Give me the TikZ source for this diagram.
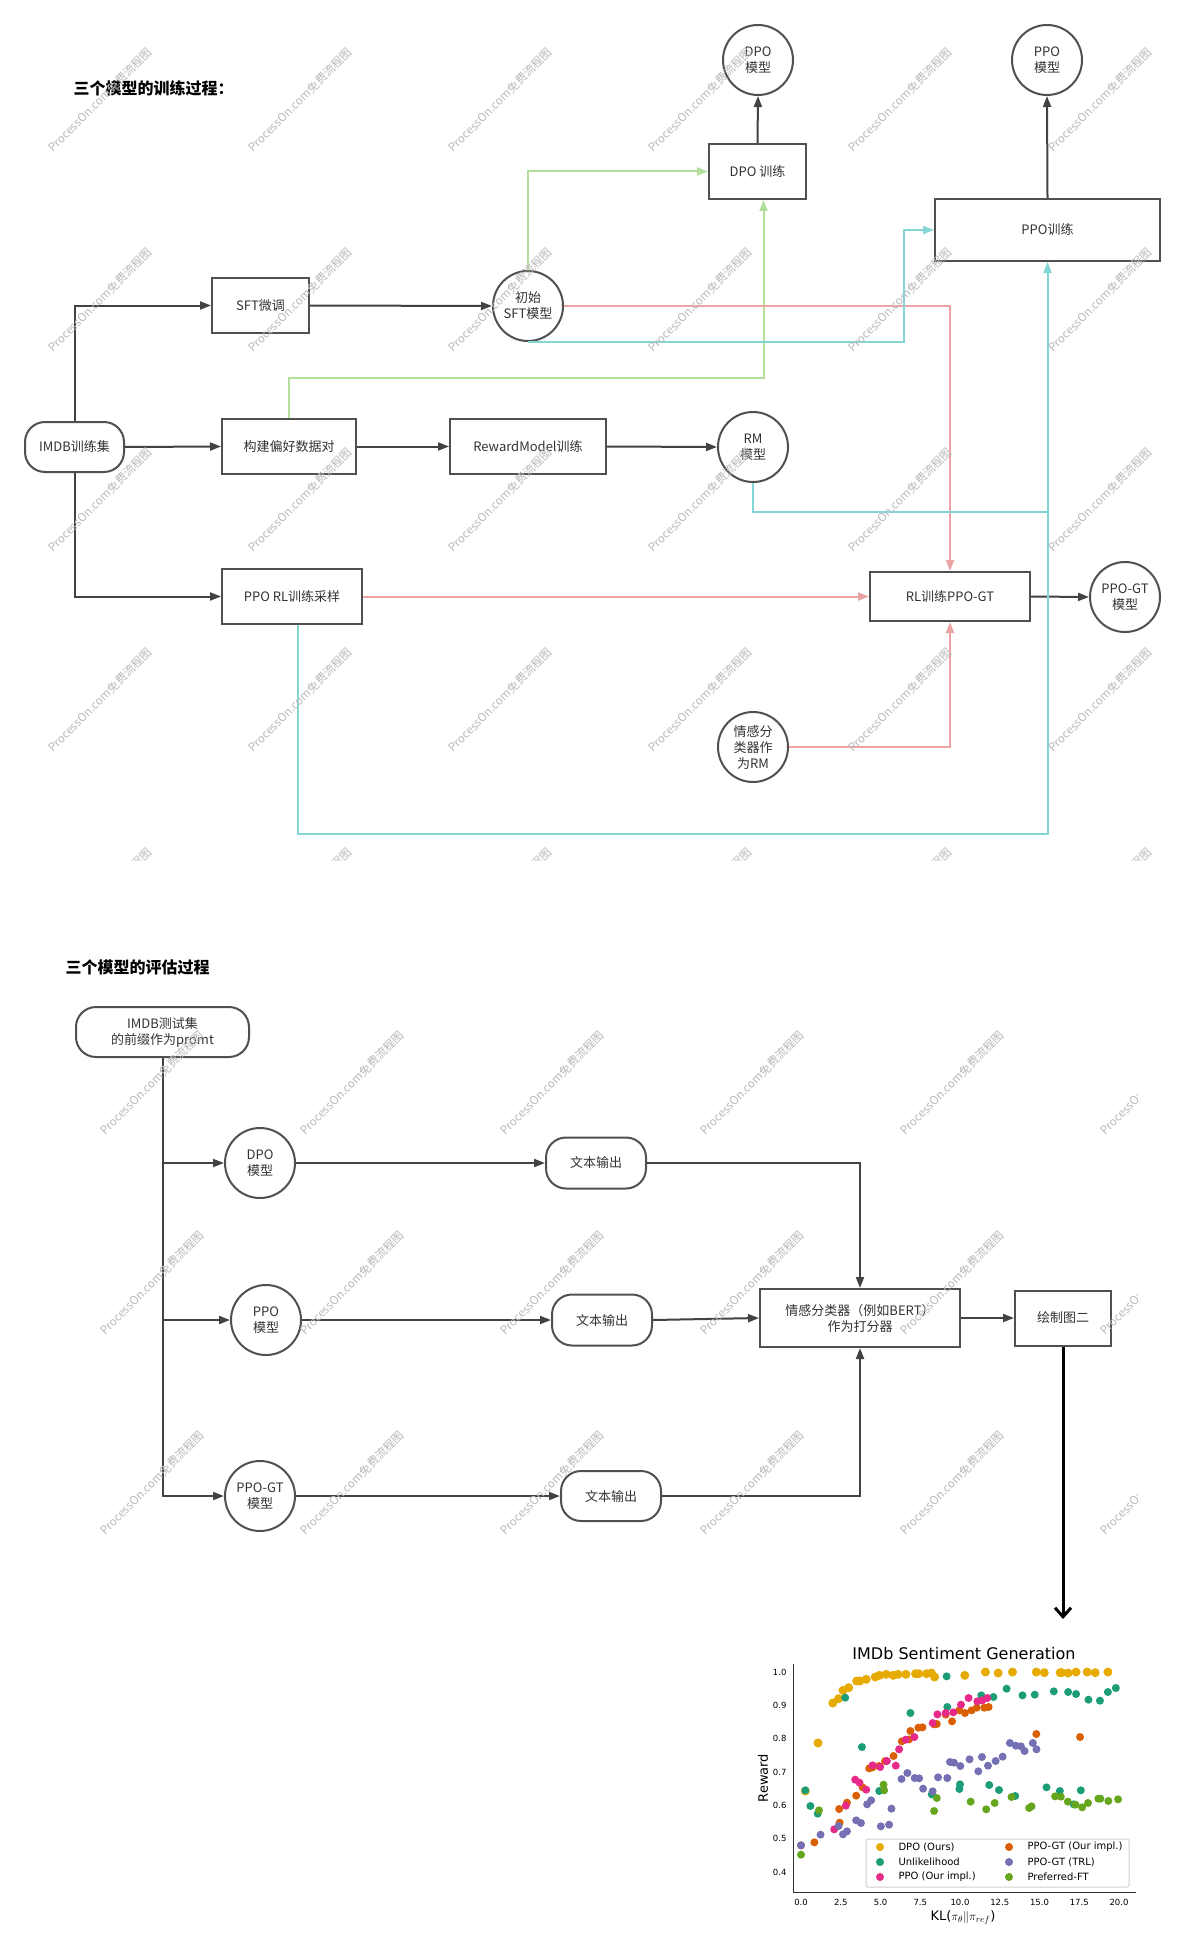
\documentclass[tikz,border=0pt]{standalone}
\usepackage{fontspec}
\setmainfont{Noto Sans CJK SC}
\newfontfamily\plotfont{DejaVu Sans}
\usetikzlibrary{arrows.meta}
\definecolor{boxc}{HTML}{505050}
\definecolor{linec}{HTML}{424242}
\definecolor{txt}{HTML}{333333}
\definecolor{greenl}{HTML}{B2E09C}
\definecolor{redl}{HTML}{EBA3A3}
\definecolor{cyanl}{HTML}{84D5D5}
\definecolor{dpoc}{HTML}{E6AB02}
\definecolor{unlc}{HTML}{1B9E77}
\definecolor{ppoc}{HTML}{E7298A}
\definecolor{pgtc}{HTML}{D95F02}
\definecolor{trlc}{HTML}{7570B3}
\definecolor{pftc}{HTML}{66A61E}
\tikzset{
  box/.style={draw=boxc, line width=2pt, text=txt, align=center, inner sep=0pt,
    font=\fontsize{13}{16}\selectfont},
  pill/.style={box, rounded corners=20pt},
  model/.style={box, circle, minimum size=70pt},
  flow/.style={draw=linec, line width=2pt, -{Triangle[length=11pt,width=8pt]}},
  gflow/.style={draw=greenl, line width=2pt, -{Triangle[length=11pt,width=8pt]}},
  rflow/.style={draw=redl, line width=2pt, -{Triangle[length=11pt,width=8pt]}},
  cflow/.style={draw=cyanl, line width=2pt, -{Triangle[length=11pt,width=8pt]}},
  wmark/.style={rotate=45, text=black!27, font=\fontsize{11.5}{12}\selectfont},
  dot/.style={radius=4pt},
}
\begin{document}
\begin{tikzpicture}[x=1pt, y=-1pt]
\useasboundingbox[fill=white] (0,0) rectangle (1185,1953);

% training
\node[anchor=west, font=\fontsize{16}{18}\selectfont\bfseries] (title1) at (70,88) {三个模型的训练过程：};
\node[pill, minimum width=99pt, minimum height=50pt] (imdb) at (74.5,447) {IMDB训练集};
\node[box, minimum width=97pt, minimum height=55pt] (sft) at (260.5,305.5) {SFT微调};
\node[model] (sftm) at (528,306) {初始\\SFT模型};
\node[box, minimum width=134pt, minimum height=55pt] (pref) at (289,446.5) {构建偏好数据对};
\node[box, minimum width=156pt, minimum height=55pt] (rmtrain) at (528,446.5) {RewardModel训练};
\node[model] (rm) at (753,447) {RM\\模型};
\node[box, minimum width=140pt, minimum height=55pt] (pporl) at (292,596.5) {PPO RL训练采样};
\node[box, minimum width=160pt, minimum height=49pt] (rlgt) at (950,596.5) {RL训练PPO-GT};
\node[model] (ppogt) at (1125,597) {PPO-GT\\模型};
\node[model] (senti) at (753,747) {情感分\\类器作\\为RM};
\node[box, minimum width=97pt, minimum height=55pt] (dpotrain) at (757.5,171.5) {DPO 训练};
\node[model] (dpom) at (758,60) {DPO\\模型};
\node[box, minimum width=225pt, minimum height=62pt] (ppotrain) at (1047.5,230) {PPO训练};
\node[model] (ppom) at (1047,60) {PPO\\模型};
\coordinate (rmturn) at (1047.5,512);
\coordinate (botturn) at (1047.5,834);

\draw[flow] (imdb.north) |- (sft.west);
\draw[flow] (imdb.south) |- (pporl.west);
\draw[flow] (imdb.east) -- (pref.west);
\draw[flow] (pref.east) -- (rmtrain.west);
\draw[flow] (rmtrain.east) -- (rm.west);
\draw[flow] (sft.east) -- (sftm.west);
\draw[flow] (rlgt.east) -- (ppogt.west);
\draw[flow] (dpotrain.north) -- (dpom.south);
\draw[flow] (ppotrain.north) -- (ppom.south);
\draw[gflow] (sftm.north) |- (dpotrain.west);
\draw[gflow] (pref.north) |- ([xshift=6pt]dpotrain.south |- 0,378) -- ([xshift=6pt]dpotrain.south);
\draw[rflow] (sftm.east) -| (rlgt.north);
\draw[rflow] (pporl.east) -- (rlgt.west);
\draw[rflow] (senti.east) -| (rlgt.south);
\draw[cflow] (sftm.south) -| ([xshift=-30pt]ppotrain.west) -- (ppotrain.west);
\draw[cyanl, line width=2pt] (rm.south) |- (rmturn);
\draw[cflow] ([xshift=6pt]pporl.south) |- (botturn) -- (ppotrain.south);

% evaluation
\node[anchor=west, font=\fontsize{16}{18}\selectfont\bfseries] (title2) at (62,967) {三个模型的评估过程};
\node[pill, minimum width=173pt, minimum height=50pt] (imdbtest) at (162.5,1032) {IMDB测试集\\的前缀作为promt};
\node[model] (dpo2) at (260,1163) {DPO\\模型};
\node[model] (ppo2) at (266,1320) {PPO\\模型};
\node[model] (ppogt2) at (260,1496) {PPO-GT\\模型};
\node[pill, minimum width=100pt, minimum height=51pt] (out1) at (596,1163) {文本输出};
\node[pill, minimum width=100pt, minimum height=51pt] (out2) at (602,1320) {文本输出};
\node[pill, minimum width=100pt, minimum height=50pt] (out3) at (611,1496) {文本输出};
\node[box, minimum width=200pt, minimum height=58pt] (judge) at (860,1318) {情感分类器（例如BERT）\\作为打分器};
\node[box, minimum width=96pt, minimum height=55pt] (fig2) at (1063,1318) {绘制图二};
\coordinate (figarrow) at (1063,1619);

\draw[flow] (imdbtest.south) |- (dpo2.west);
\draw[flow] (imdbtest.south) |- (ppo2.west);
\draw[flow] (imdbtest.south) |- (ppogt2.west);
\draw[flow] (dpo2.east) -- (out1.west);
\draw[flow] (ppo2.east) -- (out2.west);
\draw[flow] (ppogt2.east) -- (out3.west);
\draw[flow] (out1.east) -| (judge.north);
\draw[flow] (out2.east) -- (judge.west);
\draw[flow] (out3.east) -| (judge.south);
\draw[flow] (judge.east) -- (fig2.west);
\draw[black, line width=3pt, -{Straight Barb[length=9pt,width=16pt]}] (fig2.south) -- (figarrow);

% plot
\node[font=\plotfont\fontsize{16}{18}\selectfont] (ptitle) at (964,1654) {IMDb Sentiment Generation};
\node[rotate=90, font=\plotfont\fontsize{13}{15}\selectfont] (ylab) at (763,1778) {Reward};
\node[font=\plotfont\fontsize{13}{15}\selectfont] (xlab) at (963,1917) {KL($\pi_\theta\|\pi_{ref}$)};
\draw[black!80, line width=1pt] (793,1664) -- (793,1892) -- (1136,1892);
\foreach \t [count=\i from 0] in {0.4,0.5,0.6,0.7,0.8,0.9,1.0}
  \node[anchor=east, font=\plotfont\fontsize{8.5}{9}\selectfont] at (790,1872-33.33*\i) {\t};
\foreach \t [count=\i from 0] in {0.0,2.5,5.0,7.5,10.0,12.5,15.0,17.5,20.0}
  \node[font=\plotfont\fontsize{8.5}{9}\selectfont] at (801+39.75*\i,1902) {\t};
\begin{scope}[shift={(801pt,-2005.3pt)}, x=15.9pt, y=333.3pt]
\foreach \a/\b in {0.27/0.643,1.07/0.787,2.0/0.907,2.36/0.92,2.64/0.945,3.0/0.953,3.5/0.973,3.7/0.973,4.1/0.978,4.67/0.985,4.94/0.99,5.36/0.993,5.8/0.99,6.1/0.993,6.6/0.993,7.2/0.995,7.4/0.995,7.9/0.995,8.2/0.997,8.4/0.985,10.3/0.99,11.6/1.0,12.4/0.997,13.3/1.0,14.8/1.0,15.3/0.998,16.3/0.998,16.4/0.998,16.8/0.997,17.3/1.0,18.0/1.0,18.5/0.998,19.3/1.0}
  \fill[dpoc] (\a,\b) circle[radius=4.5pt];
\foreach \a/\b in {0.27/0.645,0.59/0.598,1.05/0.575,2.78/0.923,3.83/0.775,4.92/0.643,6.88/0.877,8.22/0.633,9.16/0.987,9.2/0.895,9.96/0.649,10.0/0.663,11.34/0.93,11.84/0.661,12.1/0.925,12.45/0.646,12.93/0.95,13.47/0.628,13.93/0.93,14.7/0.932,15.44/0.654,15.9/0.942,16.28/0.643,16.8/0.94,17.15/0.603,17.3/0.934,17.6/0.645,18.08/0.917,18.8/0.914,19.3/0.94,19.8/0.952}
  \fill[unlc] (\a,\b) circle[dot];
\foreach \a/\b in {0.0/0.48,0.84/0.489,2.43/0.548,2.4/0.589,2.89/0.608,3.47/0.629,3.87/0.654,4.29/0.711,4.5/0.714,4.92/0.718,5.29/0.733,5.82/0.748,6.34/0.792,6.8/0.798,6.88/0.823,7.38/0.833,7.64/0.834,8.37/0.843,8.54/0.844,9.1/0.872,9.5/0.852,9.96/0.885,10.31/0.877,10.73/0.885,11.05/0.893,11.53/0.893,11.8/0.895,14.8/0.814,17.55/0.805}
  \fill[pgtc] (\a,\b) circle[dot];
\foreach \a/\b in {2.09/0.528,2.82/0.599,3.41/0.677,3.68/0.668,4.1/0.647,4.5/0.72,4.98/0.715,5.4/0.733,5.96/0.719,6.17/0.768,6.59/0.797,7.13/0.805,8.28/0.847,8.58/0.873,9.1/0.877,9.58/0.879,10.06/0.902,10.54/0.922,11.09/0.912,11.4/0.915,11.72/0.922}
  \fill[ppoc] (\a,\b) circle[dot];
\foreach \a/\b in {0.0/0.48,1.23/0.512,2.36/0.538,2.64/0.513,2.89/0.522,3.47/0.555,3.77/0.547,4.16/0.603,4.41/0.615,5.02/0.537,5.54/0.542,5.69/0.59,6.32/0.679,6.69/0.697,7.15/0.682,7.43/0.681,7.68/0.65,8.28/0.642,8.62/0.684,9.2/0.682,9.37/0.73,9.62/0.728,10.02/0.718,10.6/0.738,11.15/0.702,11.38/0.745,11.76/0.719,12.24/0.733,12.68/0.746,13.14/0.787,13.51/0.779,13.83/0.777,14.06/0.763,14.58/0.787,14.81/0.768}
  \fill[trlc] (\a,\b) circle[dot];
\foreach \a/\b in {0.0/0.452,1.13/0.585,5.19/0.662,5.23/0.645,8.37/0.583,8.54/0.622,10.67/0.611,11.65/0.588,12.18/0.607,13.24/0.625,14.35/0.592,14.5/0.597,15.98/0.627,16.34/0.626,16.78/0.611,17.26/0.602,17.68/0.594,18.05/0.607,18.7/0.62,18.83/0.62,19.33/0.613,19.94/0.618}
  \fill[pftc] (\a,\b) circle[dot];
\end{scope}
\draw[black!18, line width=1pt, fill=white, fill opacity=0.85, rounded corners=2pt] (866,1839) rectangle (1129,1887);
\foreach \c/\t [count=\i from 0] in {dpoc/DPO (Ours),unlc/Unlikelihood,ppoc/PPO (Our impl.)} {
  \fill[\c] (880,1847+15*\i) circle[dot];
  \node[anchor=west, font=\plotfont\fontsize{10}{11}\selectfont] at (895,1847+15*\i) {\t};
}
\foreach \c/\t [count=\i from 0] in {pgtc/PPO-GT (Our impl.),trlc/PPO-GT (TRL),pftc/Preferred-FT} {
  \fill[\c] (1009,1847+15*\i) circle[dot];
  \node[anchor=west, font=\plotfont\fontsize{10}{11}\selectfont] at (1024,1847+15*\i) {\t};
}

% watermarks
\begin{scope}
\clip (0,0) rectangle (1185,860);
\foreach \x in {100,300,...,1100}
  \foreach \y in {100,300,...,900}
    \node[wmark] at (\x,\y) {ProcessOn.com免费流程图};
\end{scope}
\begin{scope}
\clip (0,900) rectangle (1137,1600);
\foreach \x in {152,352,...,1152}
  \foreach \y in {1083,1283,1483}
    \node[wmark] at (\x,\y) {ProcessOn.com免费流程图};
\end{scope}
\end{tikzpicture}
\end{document}
